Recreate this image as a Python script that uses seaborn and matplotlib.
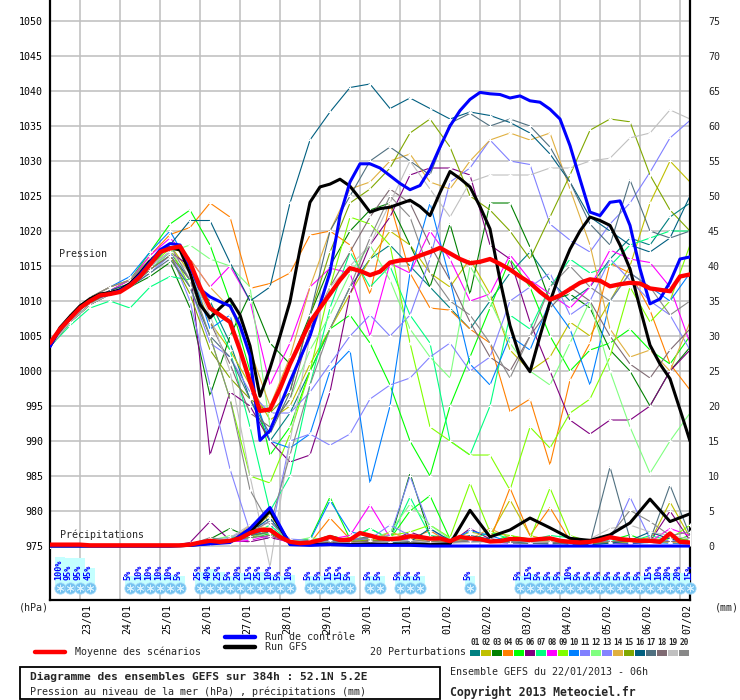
import numpy as np
import pandas as pd
import matplotlib
matplotlib.use("Agg")
import matplotlib.pyplot as plt
import matplotlib.transforms as mtransforms
from matplotlib.lines import Line2D
from matplotlib.patches import Rectangle
import seaborn as sns

# ---------------- DATA ----------------
hours_6h = list(range(0, 385, 6))      # 22/01 06h .. 07/02 06h
hours_12h = list(range(0, 385, 12))
day_hours = list(range(18, 385, 24))
date_labels = ["23/01", "24/01", "25/01", "26/01", "27/01", "28/01", "29/01", "30/01",
               "31/01", "01/02", "02/02", "03/02", "04/02", "05/02", "06/02", "07/02"]

mean_slp = [1004.0, 1006.0, 1007.5, 1009.0, 1010.0, 1010.8, 1011.0, 1011.3, 1012.2, 1013.5,
            1015.2, 1017.0, 1017.5, 1017.8, 1015.5, 1012.0, 1009.0, 1008.0, 1007.0, 1003.0,
            998.5, 994.3, 994.5, 997.5, 1001.0, 1004.0, 1007.0, 1009.0, 1011.0, 1013.0,
            1014.7, 1014.3, 1013.7, 1014.2, 1015.5, 1015.8, 1015.9, 1016.5, 1017.0, 1017.6,
            1016.8, 1016.0, 1015.4, 1015.6, 1016.0, 1015.3, 1014.5, 1013.5, 1012.6, 1011.3,
            1010.2, 1010.8, 1011.7, 1012.6, 1013.1, 1012.9, 1012.1, 1012.4, 1012.6, 1012.5,
            1011.8, 1011.6, 1011.4, 1013.5, 1013.8]
ctrl_slp = [1003.5, 1006.0, 1007.5, 1009.0, 1010.0, 1010.7, 1011.0, 1011.5, 1012.3, 1013.8,
            1015.5, 1017.3, 1018.2, 1018.0, 1015.0, 1011.7, 1010.6, 1009.9, 1009.3, 1006.5,
            1002.2, 990.1, 991.5, 995.0, 998.5, 1001.8, 1005.0, 1009.5, 1014.1, 1022.2,
            1027.0, 1029.6, 1029.6, 1029.0, 1027.9, 1026.8, 1025.9, 1026.5, 1028.8, 1032.0,
            1035.0, 1037.2, 1038.8, 1039.8, 1039.6, 1039.5, 1039.0, 1039.3, 1038.6, 1038.4,
            1037.4, 1036.0, 1032.2, 1027.4, 1022.7, 1022.2, 1024.1, 1024.3, 1020.8, 1014.6,
            1009.6, 1010.3, 1012.7, 1016.0, 1016.3]
gfs_slp = [1003.5, 1006.2, 1007.8, 1009.3, 1010.3, 1011.0, 1011.2, 1011.6, 1012.5, 1014.0,
           1015.7, 1017.0, 1017.6, 1017.3, 1014.0, 1009.5, 1007.6, 1009.0, 1010.3, 1008.0,
           1003.6, 996.4, 1000.4, 1005.0, 1009.9, 1017.4, 1024.1, 1026.3, 1026.7, 1027.4,
           1026.4, 1024.6, 1022.7, 1023.2, 1023.4, 1023.9, 1024.4, 1023.5, 1022.2, 1025.5,
           1028.5, 1027.5, 1026.3, 1023.5, 1020.3, 1013.0, 1006.5, 1002.0, 999.9, 1005.0,
           1009.9, 1014.0, 1017.4, 1020.0, 1022.0, 1021.5, 1020.8, 1018.0, 1014.6, 1009.0,
           1003.7, 1001.0, 998.9, 994.5, 990.0]
mean_rr = [0.2, 0.2, 0.2, 0.2, 0.1, 0.1, 0.1, 0.1, 0.1, 0.1,
           0.1, 0.1, 0.1, 0.1, 0.2, 0.5, 0.75, 0.6, 0.75, 1.1,
           1.85, 2.3, 2.3, 1.3, 0.6, 0.4, 0.5, 0.85, 1.3, 0.85,
           0.9, 1.85, 1.5, 1.1, 1.0, 1.1, 1.4, 1.3, 1.05, 1.1,
           0.7, 1.3, 1.1, 1.0, 0.65, 0.7, 1.0, 1.0, 0.85, 1.0,
           1.1, 0.75, 0.6, 0.5, 0.6, 0.85, 1.25, 1.0, 0.85, 0.75,
           0.75, 0.6, 1.8, 0.6, 0.5]
ctrl_rr = [0, 0, 0, 0, 0, 0, 0, 0.1, 0.3, 0.5, 2.5, 5.5, 0.2,
           0.1, 0.2, 0.1, 0.1, 0.1, 0.1, 0, 0, 0, 0,
           0, 0, 0, 0, 0, 0, 0, 0, 0, 0]
gfs_rr = [0, 0, 0, 0, 0, 0, 0, 0.1, 0.4, 0.6, 2.0, 5.0, 0.3,
          0.2, 0.3, 0.2, 0.3, 0.2, 0.3, 0.2, 0.3, 5.1, 1.3,
          2.3, 4.0, 2.6, 1.1, 0.8, 1.6, 3.3, 6.7, 3.5, 4.6]

# 20 perturbations, sea-level pressure every 12 h (hPa)
slp_01 = [1003.5, 1007.0, 1009.6, 1011.0, 1012.0, 1014.5, 1017.0, 1013.0, 1010.0, 1004.0, 996.0, 990.0, 994.0,
          1000.0, 1006.0, 1012.0, 1016.0, 1018.0, 1015.0, 1012.0, 1009.0, 1006.0, 1010.0,
          1014.0, 1017.0, 1013.0, 1010.0, 1012.0, 1016.0, 1019.0, 1018.0, 1022.0, 1024.0]
slp_02 = [1003.5, 1007.5, 1010.0, 1011.5, 1012.5, 1015.5, 1018.0, 1014.0, 1007.0, 1003.0, 998.0, 993.0, 995.0,
          1001.0, 1006.0, 1011.0, 1016.0, 1020.0, 1018.0, 1014.0, 1012.0, 1016.0, 1011.0,
          1003.0, 1000.0, 1002.0, 1007.0, 1005.0, 1010.0, 1015.0, 1024.0, 1030.0, 1027.0]
slp_03 = [1003.5, 1007.0, 1009.5, 1011.0, 1012.0, 1013.5, 1015.5, 1009.0, 996.5, 1005.0, 1011.0, 1004.0, 1001.0,
          1008.0, 1015.0, 1020.0, 1023.0, 1024.0, 1018.0, 1012.0, 1021.0, 1011.0, 1024.0,
          1024.0, 1017.7, 1010.0, 1011.0, 1009.0, 1003.0, 1000.0, 995.0, 1000.0, 1003.4]
slp_04 = [1003.5, 1008.0, 1010.5, 1012.0, 1013.0, 1016.5, 1019.5, 1020.5, 1024.0, 1022.0, 1011.8, 1012.5, 1014.0,
          1019.4, 1020.0, 1018.0, 1011.0, 1024.0, 1014.0, 1009.0, 1008.7, 1006.0, 1004.0,
          994.2, 996.0, 986.6, 998.7, 1004.0, 1015.4, 1014.0, 1008.7, 1001.0, 997.3]
slp_05 = [1003.5, 1007.0, 1009.5, 1011.5, 1013.0, 1017.0, 1021.0, 1023.0, 1018.0, 1010.0, 1000.0, 988.0, 992.0,
          1000.0, 1006.0, 1008.0, 1004.0, 998.0, 990.0, 985.0, 995.0, 1002.0, 1009.0,
          1016.0, 1012.0, 1005.0, 1000.0, 1003.0, 1004.0, 1006.0, 1003.0, 1001.0, 1005.0]
slp_06 = [1003.5, 1007.0, 1009.5, 1011.0, 1012.0, 1015.0, 1017.0, 1015.0, 988.0, 997.0, 995.0, 990.0, 987.0,
          988.0, 997.0, 1011.0, 1018.0, 1022.0, 1028.0, 1029.0, 1029.0, 1028.0, 1018.0,
          1016.0, 1007.0, 1000.0, 993.0, 991.0, 993.0, 993.0, 995.0, 1000.0, 1003.0]
slp_07 = [1003.5, 1006.5, 1009.0, 1010.0, 1009.0, 1012.0, 1013.5, 1013.0, 1009.0, 1003.0, 992.0, 980.0, 985.0,
          998.0, 1009.0, 1017.0, 1012.0, 1015.0, 1008.0, 1004.0, 990.0, 988.0, 995.0,
          1008.0, 1006.0, 1012.0, 1016.0, 1014.0, 1015.0, 1018.0, 1019.0, 1020.0, 1020.0]
slp_08 = [1003.5, 1007.5, 1010.0, 1011.5, 1013.0, 1016.5, 1019.0, 1016.0, 1012.0, 1015.0, 1010.0, 998.0, 1004.0,
          1012.0, 1014.7, 1014.0, 1005.0, 1015.4, 1014.0, 1020.0, 1016.0, 1010.0, 1011.0,
          1016.6, 1013.0, 1011.0, 1009.0, 1012.0, 1017.3, 1016.0, 1015.5, 1012.0, 1004.0]
slp_09 = [1003.5, 1007.0, 1009.5, 1011.0, 1012.5, 1015.0, 1017.5, 1012.0, 1005.0, 996.0, 985.0, 984.0, 991.0,
          1000.0, 1012.0, 1022.0, 1021.0, 1018.0, 1004.0, 992.0, 990.0, 988.0, 988.0,
          983.0, 992.0, 989.0, 994.0, 996.0, 1002.0, 1012.0, 1007.0, 1010.0, 1018.0]
slp_10 = [1003.5, 1007.5, 1010.5, 1012.0, 1013.5, 1017.0, 1020.0, 1015.0, 1006.0, 1008.0, 998.0, 990.0, 989.0,
          991.0, 1000.0, 1003.0, 984.0, 995.0, 1014.0, 1024.0, 1013.0, 1001.0, 998.0,
          1005.0, 1003.0, 1010.0, 1006.0, 998.0, 1010.0, 1014.0, 1012.0, 1010.0, 1014.0]
slp_11 = [1003.5, 1007.0, 1009.5, 1011.0, 1012.0, 1014.0, 1016.5, 1012.0, 1004.0, 1002.0, 997.0, 994.0, 994.0,
          997.0, 1001.0, 1005.0, 1008.0, 1005.0, 1008.0, 1016.0, 1027.0, 1029.0, 1033.0,
          1030.0, 1029.5, 1021.0, 1018.7, 1017.0, 1021.0, 1024.0, 1028.4, 1033.3, 1035.8]
slp_12 = [1003.5, 1007.0, 1009.5, 1011.0, 1012.0, 1014.5, 1017.0, 1018.0, 1016.0, 1015.0, 1012.0, 992.0, 996.0,
          1003.0, 1008.0, 1014.0, 1018.0, 1013.0, 1006.0, 1002.0, 999.0, 1015.0, 1010.0,
          1004.0, 1000.0, 998.0, 1004.0, 1010.0, 1000.0, 992.0, 985.4, 990.0, 994.0]
slp_13 = [1003.5, 1007.0, 1009.5, 1011.0, 1012.5, 1015.0, 1017.0, 1010.0, 998.0, 986.0, 977.0, 976.0, 990.0,
          991.0, 989.4, 991.0, 996.0, 998.0, 999.0, 1002.0, 1004.0, 1000.0, 1002.0,
          1010.0, 1012.0, 1014.0, 1008.0, 1010.0, 1016.0, 1013.0, 1010.0, 1008.0, 1003.0]
slp_14 = [1003.5, 1007.5, 1010.5, 1012.0, 1013.0, 1016.0, 1018.0, 1016.0, 1012.0, 1009.0, 1003.0, 995.0, 1002.0,
          1012.0, 1020.0, 1026.0, 1027.0, 1030.0, 1031.0, 1027.0, 1026.0, 1030.0, 1033.0,
          1034.0, 1033.0, 1034.0, 1026.0, 1018.0, 1006.0, 1002.0, 1003.0, 1000.0, 1007.0]
slp_15 = [1003.5, 1007.0, 1009.5, 1011.0, 1012.0, 1014.5, 1016.5, 1011.0, 1003.0, 999.0, 996.0, 994.0, 997.0,
          1008.0, 1017.0, 1024.0, 1026.0, 1029.0, 1034.0, 1036.0, 1032.0, 1025.0, 1023.0,
          1020.0, 1016.0, 1022.0, 1028.0, 1034.4, 1036.0, 1035.6, 1028.0, 1023.0, 1020.0]
slp_16 = [1003.5, 1007.5, 1010.0, 1011.5, 1012.5, 1015.0, 1018.0, 1021.5, 1021.5, 1015.5, 1010.0, 1012.0, 1024.0,
          1033.0, 1037.0, 1040.5, 1041.0, 1037.5, 1039.0, 1037.5, 1036.0, 1037.0, 1036.5,
          1035.5, 1034.0, 1031.0, 1027.0, 1022.0, 1020.0, 1018.0, 1017.0, 1019.0, 1025.0]
slp_17 = [1003.5, 1007.0, 1009.5, 1011.0, 1012.0, 1014.0, 1016.0, 1012.0, 1005.0, 1002.0, 996.0, 991.0, 997.0,
          1008.0, 1020.0, 1025.0, 1030.0, 1032.0, 1030.0, 1028.0, 1035.4, 1036.8, 1035.0,
          1036.0, 1035.0, 1032.0, 1027.0, 1021.0, 1018.0, 1027.3, 1020.0, 1019.0, 1020.0]
slp_18 = [1003.5, 1007.0, 1009.5, 1011.0, 1012.0, 1014.5, 1016.5, 1013.0, 1007.0, 1001.0, 994.0, 992.0, 996.0,
          1006.0, 1012.0, 1017.0, 1022.0, 1026.0, 1024.0, 1018.0, 1013.0, 1007.0, 1002.0,
          1000.0, 1005.0, 1009.0, 1012.0, 1010.0, 1005.0, 1001.0, 999.0, 1003.0, 1006.0]
slp_19 = [1003.5, 1007.0, 1009.5, 1011.0, 1012.0, 1015.0, 1017.0, 1014.0, 1008.0, 1000.0, 985.0, 972.0, 990.0,
          1005.0, 1012.0, 1015.0, 1018.0, 1024.0, 1030.0, 1026.0, 1022.0, 1027.0, 1028.0,
          1028.0, 1028.0, 1029.0, 1029.0, 1030.0, 1030.4, 1033.3, 1034.0, 1037.3, 1036.0]
slp_20 = [1003.5, 1008.0, 1010.5, 1012.0, 1013.0, 1016.0, 1018.0, 1013.0, 1005.0, 996.0, 983.0, 978.0, 988.0,
          998.0, 1006.0, 1012.0, 1019.0, 1025.0, 1022.0, 1014.0, 1010.0, 1008.0, 1004.0,
          999.0, 1005.0, 1012.0, 1015.0, 1012.0, 1010.0, 1014.0, 1012.0, 1008.0, 1010.0]

# 20 perturbations, precipitation every 12 h (mm)
rr_01 = [0, 0, 0, 0, 0, 0, 0, 0.2, 0.8, 0.5, 1.5, 2.5, 0.5, 0.6, 1.0, 0.8, 1.2, 0.6, 0.9, 0.5, 0.4, 1.2, 0.8, 0.6, 0.4, 0.5, 0.3, 0.3, 0.5, 0.6, 0.8, 0.5, 0.4]
rr_02 = [0, 0, 0, 0, 0, 0, 0, 0.1, 0.5, 0.7, 2.0, 4.5, 0.4, 0.5, 0.8, 0.6, 1.0, 0.5, 1.2, 0.6, 0.8, 2.0, 1.5, 6.6, 1.5, 0.8, 0.5, 0.3, 0.4, 0.5, 0.6, 6.3, 1.2]
rr_03 = [0, 0, 0, 0, 0, 0, 0, 0.2, 1.0, 2.5, 1.2, 1.8, 0.4, 0.6, 1.5, 0.8, 1.4, 0.8, 10.4, 1.5, 0.6, 0.8, 1.0, 0.5, 0.6, 1.2, 0.4, 0.3, 0.5, 0.4, 0.6, 0.8, 0.5]
rr_04 = [0, 0, 0, 0, 0, 0, 0, 0.1, 0.6, 1.0, 1.5, 2.0, 0.5, 0.4, 4.0, 1.0, 0.8, 2.0, 1.0, 2.2, 0.5, 1.0, 0.8, 8.3, 1.5, 5.5, 0.8, 0.5, 0.6, 0.8, 1.2, 0.6, 0.4]
rr_05 = [0, 0, 0, 0, 0, 0, 0, 0.2, 0.9, 0.8, 1.2, 1.8, 0.8, 1.0, 7.0, 1.0, 2.5, 1.0, 5.0, 7.2, 1.0, 0.8, 0.6, 1.5, 0.8, 1.2, 0.6, 0.4, 0.8, 1.6, 0.5, 0.6, 1.5]
rr_06 = [0, 0, 0, 0, 0, 0, 0, 0.5, 3.5, 0.8, 0.6, 1.2, 0.6, 0.4, 0.5, 0.5, 0.8, 0.6, 2.0, 1.0, 0.4, 2.5, 1.0, 0.8, 0.5, 0.6, 0.8, 0.5, 0.4, 0.3, 0.6, 5.0, 0.8]
rr_07 = [0, 0, 0, 0, 0, 0, 0, 0.2, 1.0, 1.2, 1.5, 3.0, 0.5, 0.6, 0.9, 1.0, 2.5, 1.0, 7.0, 1.5, 1.2, 0.8, 2.0, 1.0, 0.8, 1.5, 1.2, 0.5, 0.8, 0.6, 1.5, 0.8, 1.0]
rr_08 = [0, 0, 0, 0, 0, 0, 0, 0.3, 1.0, 0.6, 0.8, 1.5, 0.4, 0.5, 1.0, 1.5, 5.9, 1.2, 0.8, 0.6, 0.5, 1.0, 0.6, 0.4, 0.5, 0.8, 0.6, 0.5, 1.0, 0.8, 0.6, 2.5, 1.5]
rr_09 = [0, 0, 0, 0, 0, 0, 0, 0.1, 0.8, 0.6, 1.2, 2.0, 0.5, 0.6, 0.8, 1.2, 1.0, 1.5, 2.0, 3.0, 1.2, 9.0, 2.0, 1.5, 1.0, 8.3, 1.5, 0.6, 1.2, 0.8, 0.8, 1.0, 3.0]
rr_10 = [0, 0, 0, 0, 0, 0, 0, 0.2, 0.6, 1.0, 1.5, 2.5, 0.5, 0.8, 6.5, 2.0, 1.5, 0.8, 1.5, 1.2, 0.6, 2.2, 1.5, 0.6, 0.5, 0.8, 0.6, 0.3, 0.5, 0.4, 0.5, 0.4, 0.3]
rr_11 = [0, 0, 0, 0, 0, 0, 0, 0.1, 0.5, 0.8, 1.0, 2.0, 0.4, 0.5, 0.8, 1.0, 1.2, 1.5, 10.0, 2.5, 0.5, 0.6, 1.0, 0.5, 0.4, 0.6, 0.8, 0.5, 0.7, 7.0, 1.0, 0.6, 0.5]
rr_12 = [0, 0, 0, 0, 0, 0, 0, 0.2, 0.7, 1.5, 1.0, 2.0, 0.6, 1.2, 0.8, 0.6, 1.0, 2.0, 6.0, 3.0, 1.0, 1.2, 0.8, 0.6, 1.0, 0.8, 0.5, 0.4, 0.6, 0.8, 1.0, 0.8, 1.0]
rr_13 = [0, 0, 0, 0, 0, 0, 0, 0.2, 0.8, 1.2, 2.5, 3.5, 1.0, 0.8, 0.5, 0.8, 1.0, 3.0, 1.5, 0.6, 0.5, 0.8, 0.6, 0.4, 0.5, 0.6, 0.5, 0.3, 0.4, 0.5, 0.6, 0.8, 0.6]
rr_14 = [0, 0, 0, 0, 0, 0, 0, 0.1, 0.5, 0.6, 3.0, 2.5, 0.5, 0.4, 0.6, 0.8, 0.5, 2.0, 1.0, 0.8, 0.6, 1.0, 2.5, 1.2, 0.8, 0.6, 0.5, 0.4, 0.5, 0.6, 0.8, 0.5, 0.4]
rr_15 = [0, 0, 0, 0, 0, 0, 0, 0.1, 0.6, 0.8, 1.5, 2.0, 0.5, 0.5, 0.8, 0.6, 0.9, 0.5, 0.8, 0.6, 0.5, 0.8, 0.6, 0.5, 0.4, 0.6, 0.5, 0.4, 0.5, 0.6, 0.5, 1.2, 0.8]
rr_16 = [0, 0, 0, 0, 0, 0, 0, 0.1, 0.4, 0.6, 2.0, 4.0, 0.4, 0.3, 0.3, 0.2, 0.3, 0.5, 0.6, 2.5, 0.8, 1.5, 1.0, 0.6, 0.5, 0.4, 0.3, 0.2, 0.4, 0.8, 2.0, 1.0, 0.6]
rr_17 = [0, 0, 0, 0, 0, 0, 0, 0.1, 0.5, 0.6, 1.5, 2.0, 0.4, 0.5, 0.6, 0.8, 1.2, 0.8, 0.6, 0.5, 0.4, 0.8, 0.6, 0.5, 0.4, 0.3, 0.4, 0.3, 11.3, 1.0, 0.8, 8.7, 1.5]
rr_18 = [0, 0, 0, 0, 0, 0, 0, 0.2, 0.6, 0.8, 1.2, 1.5, 0.5, 0.6, 0.8, 0.5, 0.7, 0.6, 0.8, 0.6, 0.5, 0.8, 0.6, 0.8, 0.6, 0.5, 0.4, 0.5, 0.6, 0.8, 1.0, 0.6, 0.8]
rr_19 = [0, 0, 0, 0, 0, 0, 0, 0.3, 0.8, 1.2, 3.0, 2.0, 0.8, 0.5, 0.6, 0.4, 0.5, 0.6, 0.8, 0.5, 0.4, 0.5, 0.6, 0.8, 0.5, 0.6, 0.8, 1.0, 2.5, 3.0, 2.0, 1.5, 1.0]
rr_20 = [0, 0, 0, 0, 0, 0, 0, 0.2, 1.2, 0.8, 2.0, 3.5, 0.6, 0.8, 1.0, 0.8, 1.2, 1.0, 1.5, 1.0, 0.6, 0.8, 0.6, 0.5, 0.8, 1.0, 0.6, 0.5, 1.5, 5.1, 3.5, 1.5, 2.0]

member_names = ["01", "02", "03", "04", "05", "06", "07", "08", "09", "10",
                "11", "12", "13", "14", "15", "16", "17", "18", "19", "20"]
member_colors = ["#008080", "#c0c000", "#008000", "#ff8000", "#00ff00", "#800080", "#00ff80",
                 "#ff00ff", "#80ff00", "#0080ff", "#8080ff", "#80ff80", "#8484ff", "#e0b040",
                 "#80a800", "#005f80", "#507080", "#7f6a72", "#c0c0c0", "#888888"]

# snow probability pictograms
snow_hours = [6, 12, 18, 24, 48, 54, 60, 66, 72, 78,
              90, 96, 102, 108, 114, 120, 126, 132, 138, 144,
              156, 162, 168, 174, 180, 192, 198, 210, 216, 222, 252,
              282, 288, 294, 300, 306, 312, 318, 324, 330, 336, 342, 348, 354, 360, 366, 372, 378, 384]
snow_pct = [100, 95, 95, 45, 5, 10, 10, 10, 10, 5,
            25, 40, 25, 5, 20, 15, 25, 10, 5, 10,
            5, 5, 15, 15, 5, 5, 5, 5, 5, 5, 5,
            5, 15, 5, 5, 5, 10, 5, 5, 5, 5, 5, 5, 5, 15, 10, 20, 20, 15]

# ---------------- TABLES ----------------
slp_lists = [slp_01, slp_02, slp_03, slp_04, slp_05, slp_06, slp_07, slp_08, slp_09, slp_10,
             slp_11, slp_12, slp_13, slp_14, slp_15, slp_16, slp_17, slp_18, slp_19, slp_20]
rr_lists = [rr_01, rr_02, rr_03, rr_04, rr_05, rr_06, rr_07, rr_08, rr_09, rr_10,
            rr_11, rr_12, rr_13, rr_14, rr_15, rr_16, rr_17, rr_18, rr_19, rr_20]
rows = []
for name, s, r in zip(member_names, slp_lists, rr_lists):
    for h, sv, rv in zip(hours_12h, s, r):
        rows.append({"h": h, "member": name, "slp": sv, "rr": rv})
pert = pd.DataFrame(rows)
det6 = pd.DataFrame({"h": hours_6h, "mean_slp": mean_slp, "ctrl_slp": ctrl_slp,
                     "gfs_slp": gfs_slp, "mean_rr": mean_rr})
det12 = pd.DataFrame({"h": hours_12h, "ctrl_rr": ctrl_rr, "gfs_rr": gfs_rr})
palette = dict(zip(member_names, member_colors))

# ---------------- FIGURE ----------------
W, H = 740, 700
sns.set_style("white")
plt.rcParams["font.family"] = ["DejaVu Sans Mono", "DejaVu Sans"]
FS = 7.2

fig = plt.figure(figsize=(W / 100, H / 100), dpi=100)
ax = fig.add_axes([50 / W, 1 - 600 / H, 640 / W, 600 / H])
ax2 = ax.twinx()

YLO, YHI = 967.29, 1053.0

# pressure: perturbations
sns.lineplot(data=pert, x="h", y="slp", hue="member", palette=palette, estimator=None,
             marker="+", markersize=3.5, markeredgewidth=0.8, linewidth=0.8,
             legend=False, ax=ax, zorder=2)
# precipitation: perturbations
sns.lineplot(data=pert, x="h", y="rr", hue="member", palette=palette, estimator=None,
             marker="+", markersize=3.5, markeredgewidth=0.8, linewidth=0.8,
             legend=False, ax=ax2, zorder=2)
# GFS, control, mean
sns.lineplot(data=det6, x="h", y="gfs_slp", color="black", linewidth=2.2, ax=ax, zorder=3)
sns.lineplot(data=det6, x="h", y="ctrl_slp", color="#0000ff", linewidth=2.2, ax=ax, zorder=4)
sns.lineplot(data=det6, x="h", y="mean_slp", color="#ff0000", linewidth=3.1, ax=ax, zorder=5)
sns.lineplot(data=det12, x="h", y="gfs_rr", color="black", linewidth=2.2, ax=ax2, zorder=3)
sns.lineplot(data=det12, x="h", y="ctrl_rr", color="#0000ff", linewidth=2.2, ax=ax2, zorder=4)
sns.lineplot(data=det6, x="h", y="mean_rr", color="#ff0000", linewidth=3.1, ax=ax2, zorder=5)

ax.set_xlabel(""); ax.set_ylabel(""); ax2.set_xlabel(""); ax2.set_ylabel("")
ax.set_xlim(0, 384)
ax.set_ylim(YLO, YHI)
ax2.set_ylim(YLO - 975, YHI - 975)
ax.set_yticks(list(range(975, 1051, 5)))
ax2.set_yticks(list(range(0, 76, 5)))
ax.set_xticks(day_hours)
ax.set_xticklabels(date_labels, rotation=90, va="top", ha="center")
ax.grid(True, color="#c0c0c0", linewidth=1.15, zorder=0)
ax.set_axisbelow(True)
ax.tick_params(axis="both", length=0, labelsize=FS, colors="black")
ax.tick_params(axis="y", pad=5)
ax.tick_params(axis="x", pad=3)
ax2.tick_params(axis="y", length=0, labelsize=FS, pad=13)
offset = mtransforms.ScaledTranslation(7 / 100, 0, fig.dpi_scale_trans)
for lab in ax.get_xticklabels():
    lab.set_transform(lab.get_transform() + offset)
for sp in ["left", "right", "bottom"]:
    ax.spines[sp].set_color("black")
    ax.spines[sp].set_linewidth(1.6)
ax.spines["top"].set_visible(False)
for sp in ax2.spines.values():
    sp.set_visible(False)

# snow pictograms (x in hours, y in axes fraction)
trans = ax2.get_xaxis_transform()
px = 1 / 600.0  # axes fraction per pixel (axes is 600 px tall)
half_w = 3.0    # 10 px ~ 6 h
for h, pc in zip(snow_hours, snow_pct):
    bar_h = (6 + 0.2 * pc) * px
    ax2.add_patch(Rectangle((h - half_w, (600 - 588) * px), 2 * half_w, bar_h + 5 * px,
                            transform=trans, facecolor="#c4ffff", edgecolor="none", zorder=6))
    ax2.text(h - 1.0, (600 - 580) * px, f"{pc}%", transform=trans, rotation=90,
             ha="center", va="bottom", color="#0000ff", fontsize=6.1, fontweight="bold", zorder=8)
ax2.scatter(snow_hours, [(600 - 588) * px] * len(snow_hours), transform=trans,
            s=66, facecolor="#74c2f0", edgecolor="#a8dcfa", linewidth=0.6, zorder=7, clip_on=False)
ax2.scatter(snow_hours, [(600 - 588) * px] * len(snow_hours), transform=trans,
            s=24, marker=(6, 2, 0), color="#d8f2ff", linewidth=0.6, zorder=7.5, clip_on=False)

# ---------------- TEXTS & LEGEND ----------------
def fx(p):
    return p / W

def fy(p):
    return 1 - p / H

fig.text(fx(59), fy(254), "Pression", fontsize=FS, va="center", ha="left")
fig.text(fx(60), fy(535), "Précipitations", fontsize=FS, va="center", ha="left")
fig.text(fx(34), fy(607), "(hPa)", fontsize=FS, va="center", ha="center")
fig.text(fx(727), fy(607), "(mm)", fontsize=FS, va="center", ha="center")

fig.add_artist(Line2D([fx(35), fx(65)], [fy(652), fy(652)], color="#ff0000", linewidth=3.2))
fig.text(fx(75), fy(652), "Moyenne des scénarios", fontsize=FS, va="center")
fig.add_artist(Line2D([fx(225), fx(255)], [fy(637), fy(637)], color="#0000ff", linewidth=3.2))
fig.text(fx(265), fy(637), "Run de contrôle", fontsize=FS, va="center")
fig.add_artist(Line2D([fx(225), fx(255)], [fy(647), fy(647)], color="black", linewidth=3.2))
fig.text(fx(265), fy(647), "Run GFS", fontsize=FS, va="center")
fig.text(fx(370), fy(652), "20 Perturbations", fontsize=FS, va="center")
for k, (name, col) in enumerate(zip(member_names, member_colors)):
    x0 = 470 + 11 * k
    fig.add_artist(Rectangle((fx(x0), fy(656)), 10 / W, 6 / H, transform=fig.transFigure,
                             facecolor=col, edgecolor="none"))
    fig.text(fx(x0 + 5), fy(642.5), name, fontsize=5.6, fontweight="bold",
             ha="center", va="center")

fig.add_artist(Rectangle((fx(20), fy(699)), 420 / W, 32 / H, transform=fig.transFigure,
                         fill=False, edgecolor="black", linewidth=1.3))
fig.text(fx(30), fy(677), "Diagramme des ensembles GEFS sur 384h : 52.1N 5.2E",
         fontsize=8.1, fontweight="bold", va="center")
fig.text(fx(30), fy(692), "Pression au niveau de la mer (hPa) , précipitations (mm)",
         fontsize=FS, va="center")
fig.text(fx(450), fy(672), "Ensemble GEFS du 22/01/2013 - 06h", fontsize=FS, va="center")
fig.text(fx(450), fy(692), "Copyright 2013 Meteociel.fr", fontsize=8.3, fontweight="bold",
         va="center")

fig.savefig("out.png", dpi=100)
